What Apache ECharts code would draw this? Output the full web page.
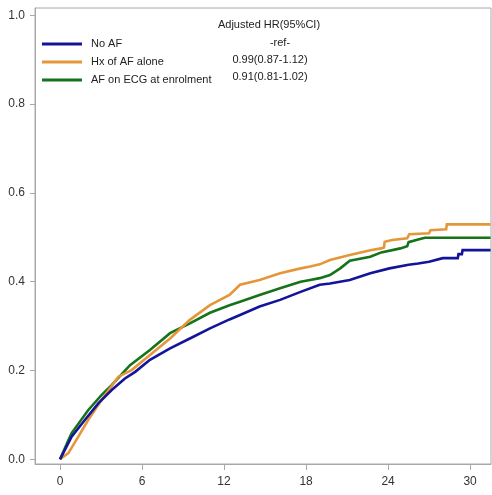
<!DOCTYPE html>
<html>
<head>
<meta charset="utf-8">
<script src="https://cdn.jsdelivr.net/npm/echarts@6.0.0/dist/echarts.min.js"></script>
<style>
  html, body { margin: 0; padding: 0; background: #fff; }
  #main { width: 492px; height: 495px; }
</style>
</head>
<body>
<div id="main"></div>
<script>
// series names
var groups = ['No AF', 'Hx of AF alone', 'AF on ECG at enrolment'];

// cumulative incidence curves (time, proportion)
var noAfTime = [0, 0.85, 1.83, 2.8, 3.78, 4.75, 5.5, 6.58, 8.05, 9.5, 10.97, 12.4, 13.17, 14.6, 16.1, 17.6, 19.0, 19.75, 21.2, 22.7, 24.1, 25.5, 26.2, 27.0, 28.0, 29.1, 29.15, 29.4, 29.45, 31.5];
var noAfVal  = [0, 0.051, 0.089, 0.126, 0.156, 0.182, 0.197, 0.224, 0.250, 0.272, 0.295, 0.315, 0.325, 0.344, 0.359, 0.377, 0.393, 0.396, 0.404, 0.419, 0.430, 0.438, 0.441, 0.445, 0.453, 0.453, 0.462, 0.462, 0.471, 0.471];

var hxTime = [0, 0.61, 1.34, 2.07, 3.05, 4.27, 5.24, 6.58, 8.05, 9.5, 10.97, 11.7, 12.4, 13.17, 14.6, 16.1, 17.6, 18.3, 19.0, 19.75, 21.2, 22.7, 23.5, 23.7, 23.75, 24.3, 25.4, 25.55, 27.0, 27.1, 28.25, 28.3, 31.5];
var hxVal  = [0, 0.014, 0.051, 0.089, 0.134, 0.186, 0.201, 0.235, 0.272, 0.314, 0.347, 0.359, 0.370, 0.393, 0.404, 0.419, 0.430, 0.434, 0.439, 0.449, 0.460, 0.471, 0.475, 0.477, 0.490, 0.494, 0.498, 0.507, 0.509, 0.516, 0.518, 0.529, 0.529];

var ecgTime = [0, 0.61, 0.85, 2.07, 3.05, 3.78, 5.12, 6.58, 8.05, 9.5, 10.97, 12.4, 13.17, 14.6, 16.1, 17.6, 18.3, 19.0, 19.75, 20.5, 21.2, 22.7, 23.5, 24.9, 25.4, 25.5, 26.2, 26.7, 31.5];
var ecgVal  = [0, 0.043, 0.059, 0.111, 0.145, 0.167, 0.212, 0.246, 0.284, 0.306, 0.330, 0.347, 0.355, 0.370, 0.385, 0.400, 0.404, 0.408, 0.415, 0.430, 0.447, 0.456, 0.466, 0.475, 0.480, 0.489, 0.495, 0.499, 0.499];

// axis ticks
var xTicks = [0, 6, 12, 18, 24, 30];
var yTicks = [0, 0.2, 0.4, 0.6, 0.8, 1.0];

// hazard ratio table
var hrHeader = 'Adjusted HR(95%CI)';
var hrValues = ['-ref-', '0.99(0.87-1.12)', '0.91(0.81-1.02)'];

var colors = ['#14149a', '#e6963a', '#16731a'];
var font = '"Liberation Sans", Arial, sans-serif';
var fs = 11;

function pairs(xs, ys) {
  var out = [];
  for (var i = 0; i < xs.length; i++) out.push([xs[i], ys[i]]);
  return out;
}

var curves = [pairs(noAfTime, noAfVal), pairs(hxTime, hxVal), pairs(ecgTime, ecgVal)];

var chart = echarts.init(document.getElementById('main'));

var series = groups.map(function (name, i) {
  return {
    name: name,
    type: 'line',
    showSymbol: false,
    data: curves[i],
    color: colors[i],
    lineStyle: { width: 2.6, color: colors[i], join: 'miter' },
    z: 3 - i
  };
});

var graphics = [{
  type: 'text', x: 269, y: 25,
  style: { text: hrHeader, font: fs + 'px ' + font, fill: '#222', align: 'center', verticalAlign: 'middle' }
}];
var rowX = [280, 270, 270];
hrValues.forEach(function (t, i) {
  graphics.push({
    type: 'text', x: rowX[i], y: 43 + i * 17,
    style: { text: t, font: fs + 'px ' + font, fill: '#222', align: 'center', verticalAlign: 'middle' }
  });
});

var option = {
  animation: false,
  grid: {
    left: 35, right: 1, top: 8, bottom: 31,
    show: true, borderColor: '#a8a8a8', borderWidth: 1
  },
  legend: {
    orient: 'vertical',
    left: 37, top: 32,
    icon: 'rect',
    itemWidth: 40, itemHeight: 3,
    itemGap: 4,
    data: groups,
    textStyle: { fontFamily: font, fontSize: fs, color: '#222', lineHeight: 14, padding: [0, 0, 0, 4] }
  },
  xAxis: {
    type: 'value',
    min: -1.83, max: 31.53,
    splitLine: { show: false },
    axisLine: { show: true, onZero: false, lineStyle: { color: '#a8a8a8' } },
    axisTick: { show: true, length: 6, customValues: xTicks, lineStyle: { color: '#a8a8a8' } },
    axisLabel: { customValues: xTicks, margin: 12, fontFamily: font, fontSize: 12, color: '#333' }
  },
  yAxis: {
    type: 'value',
    min: -0.0106, max: 1.0164,
    splitLine: { show: false },
    axisLine: { show: true, onZero: false, lineStyle: { color: '#a8a8a8' } },
    axisTick: { show: true, length: 5, customValues: yTicks, lineStyle: { color: '#a8a8a8' } },
    axisLabel: {
      customValues: yTicks, margin: 10, fontFamily: font, fontSize: 12, color: '#333',
      formatter: function (v) { return v.toFixed(1); }
    }
  },
  graphic: graphics,
  series: series
};

chart.setOption(option);
</script>
</body>
</html>
